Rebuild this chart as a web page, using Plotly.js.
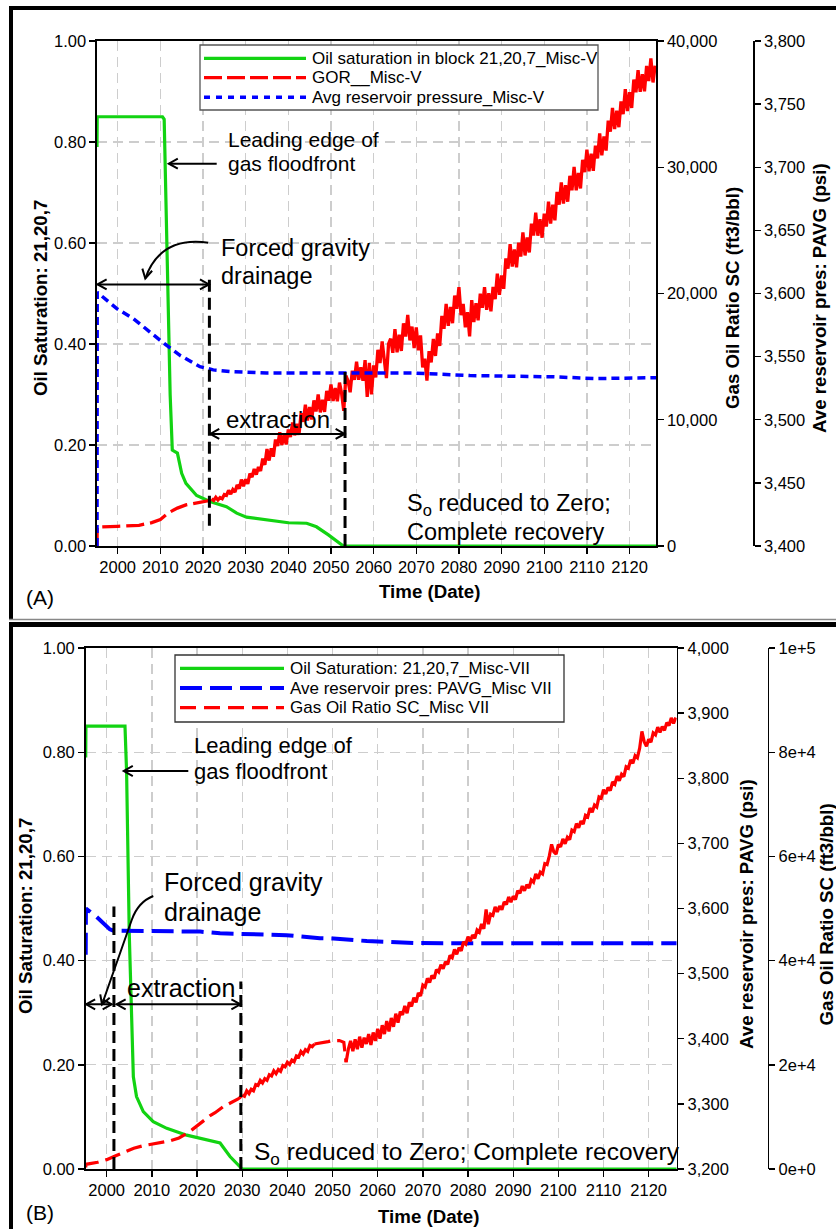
<!DOCTYPE html>
<html>
<head>
<meta charset="utf-8">
<script src="https://cdn.plot.ly/plotly-3.0.1.min.js"></script>
<style>
  html, body { margin: 0; padding: 0; background: #fff; }
  #chart { width: 836px; height: 1229px; }
</style>
</head>
<body>
<div id="chart"></div>
<script>
// ---------------- Panel (A): Misc-V ----------------
const legendA = ['Oil saturation in block 21,20,7_Misc-V', 'GOR__Misc-V', 'Avg reservoir pressure_Misc-V'];

const oilSatA_years = [1995.15, 1995.2, 2010.0, 2010.5, 2010.9, 2011.5, 2011.9, 2012.3, 2012.8, 2014.0, 2015.0, 2016.0, 2018.5, 2021.6, 2025.5, 2027.9, 2030.2, 2034.9, 2040.0, 2044.3, 2046.6, 2049.4, 2052.9, 2126.2];
const oilSatA       = [0.79, 0.85, 0.85, 0.85, 0.845, 0.60, 0.42, 0.30, 0.19, 0.184, 0.144, 0.124, 0.10, 0.088, 0.078, 0.065, 0.057, 0.052, 0.046, 0.045, 0.038, 0.022, 0.0, 0.0];

const pavgA_years = [1995.15, 1995.2, 1999.8, 2003.7, 2005.2, 2009.9, 2014.6, 2019.3, 2022.4, 2027.1, 2034.9, 2050.5, 2069.3, 2082.6, 2102.1, 2112.3, 2117.7, 2126.2];
const pavgA       = [3400, 3601, 3588, 3580, 3576, 3563, 3551, 3542, 3539.5, 3538, 3537, 3537, 3537, 3535, 3534, 3532.6, 3533, 3533.3];

const gorA_years = [
  1995.15, 1995.2, 2000, 2005, 2008, 2010, 2012, 2014, 2016, 2018, 2020, 2021.5,
  2022, 2022.5, 2023, 2023.5, 2024, 2024.5, 2025, 2025.5, 2026, 2026.5, 2027, 2027.5,
  2028, 2028.5, 2029, 2029.5, 2030, 2030.5, 2031, 2031.5, 2032, 2032.5, 2033, 2033.5,
  2034, 2034.5, 2035, 2035.5, 2036, 2036.5, 2037, 2037.5, 2038, 2038.5, 2039, 2039.5,
  2040, 2040.5, 2041, 2041.5, 2042, 2042.5, 2043, 2043.5, 2044, 2044.5, 2045, 2045.5,
  2046, 2046.5, 2047, 2047.5, 2048, 2048.5, 2049, 2049.5, 2050, 2050.5, 2051, 2051.5,
  2052, 2052.5, 2053, 2053.5, 2054, 2054.5, 2055, 2055.5, 2056, 2056.5, 2057, 2057.5,
  2058, 2058.5, 2059, 2059.5, 2060, 2060.5, 2061, 2061.5, 2062, 2062.5, 2063, 2063.5,
  2064, 2064.5, 2065, 2065.5, 2066, 2066.5, 2067, 2067.5, 2068, 2068.5, 2069, 2069.5,
  2070, 2070.5, 2071, 2071.5, 2072, 2072.5, 2073, 2073.5, 2074, 2074.5, 2075, 2075.5,
  2076, 2076.5, 2077, 2077.5, 2078, 2078.5, 2079, 2079.5, 2080, 2080.5, 2081, 2081.5,
  2082, 2082.5, 2083, 2083.5, 2084, 2084.5, 2085, 2085.5, 2086, 2086.5, 2087, 2087.5,
  2088, 2088.5, 2089, 2089.5, 2090, 2090.5, 2091, 2091.5, 2092, 2092.5, 2093, 2093.5,
  2094, 2094.5, 2095, 2095.5, 2096, 2096.5, 2097, 2097.5, 2098, 2098.5, 2099, 2099.5,
  2100, 2100.5, 2101, 2101.5, 2102, 2102.5, 2103, 2103.5, 2104, 2104.5, 2105, 2105.5,
  2106, 2106.5, 2107, 2107.5, 2108, 2108.5, 2109, 2109.5, 2110, 2110.5, 2111, 2111.5,
  2112, 2112.5, 2113, 2113.5, 2114, 2114.5, 2115, 2115.5, 2116, 2116.5, 2117, 2117.5,
  2118, 2118.5, 2119, 2119.5, 2120, 2120.5, 2121, 2121.5, 2122, 2122.5, 2123, 2123.5,
  2124, 2124.5, 2125, 2125.5, 2126
];
const gorA = [
  0, 1500, 1560, 1640, 1850, 2100, 2650, 3000, 3250, 3400, 3500, 3600,
  3730, 3605, 3855, 3640, 3830, 3740, 4080, 4015, 4400, 4110, 4475, 4265,
  4840, 4550, 5260, 4730, 5280, 4925, 5730, 5455, 6100, 5660, 6260, 5940,
  6920, 6425, 7680, 6765, 7740, 7075, 8440, 7915, 9000, 8005, 8830, 8045,
  9220, 8625, 9780, 8765, 9680, 8800, 10530, 9830, 11200, 9935, 11010, 10015,
  11540, 10650, 12010, 10580, 11580, 10625, 12280, 11505, 12800, 11485, 12510, 11465,
  12940, 12075, 10700, 13495, 13080, 12175, 13880, 13155, 14600, 13160, 14160, 13090,
  14720, 11800, 14500, 12000, 14300, 13350, 15540, 14490, 16200, 14455, 13300, 16005,
  16420, 15300, 17180, 15340, 16740, 15450, 17640, 16590, 18300, 16280, 17380, 15670,
  17320, 15500, 16680, 14140, 14840, 13100, 15440, 14540, 16400, 15055, 16830, 15845,
  18220, 17200, 19180, 17440, 18940, 17650, 19840, 18790, 20500, 18280, 19180, 17320,
  18520, 16600, 19480, 17740, 19240, 17875, 19990, 18865, 20500, 18705, 20030, 18595,
  20520, 19550, 21580, 19890, 21440, 20375, 22790, 21965, 23900, 22130, 23480, 22070,
  24020, 22925, 24830, 23015, 24440, 23250, 25540, 24590, 26400, 24580, 25880, 24420,
  26320, 25300, 27280, 25540, 27040, 25800, 28040, 27040, 28800, 27130, 28580, 27270,
  29320, 28175, 30030, 28165, 29540, 28325, 30590, 29615, 31400, 29680, 31080, 29720,
  31720, 30700, 32680, 30940, 32440, 31325, 33690, 32815, 34700, 33030, 34480, 33170,
  35220, 34200, 36180, 34440, 35940, 34700, 36940, 35940, 37700, 35980, 37380, 36020,
  38020, 36825, 38630, 36715, 38040
];

// ---------------- Panel (B): Misc-VII ----------------
const legendB = ['Oil Saturation: 21,20,7_Misc-VII', 'Ave reservoir pres: PAVG_Misc VII', 'Gas Oil Ratio SC_Misc VII'];

const oilSatB_years = [1995.35, 1995.4, 2004.05, 2004.4, 2005.0, 2005.5, 2005.9, 2006.6, 2008.1, 2010.3, 2013.3, 2017.7, 2022.1, 2025.1, 2027.3, 2030.0, 2126.2];
const oilSatB       = [0.79, 0.85, 0.85, 0.763, 0.449, 0.318, 0.177, 0.139, 0.110, 0.091, 0.078, 0.065, 0.056, 0.050, 0.024, 0.0, 0.0];

const pavgB_years = [1995.35, 1995.4, 1997.8, 2000.7, 2001.5, 2005.9, 2020.7, 2025.1, 2035.4, 2039.8, 2047.2, 2050.2, 2057.6, 2067.9, 2078.2, 2126.2];
const pavgB       = [3529, 3600, 3587, 3568, 3566, 3565.6, 3564.5, 3562, 3559.4, 3559, 3554.5, 3554, 3550, 3547, 3546.7, 3546.7];

const gorB_years = [
  1995.35, 1995.4, 1998, 2000, 2002, 2004, 2006, 2008, 2010, 2012, 2014, 2016, 2017,
  2018, 2019, 2020, 2021, 2022, 2023, 2024, 2025, 2026, 2027, 2028, 2029, 2029.5,
  2030, 2030.5, 2031, 2031.5, 2032, 2032.5, 2033, 2033.5, 2034, 2034.5, 2035, 2035.5,
  2036, 2036.5, 2037, 2037.5, 2038, 2038.5, 2039, 2039.5, 2040, 2040.5, 2041, 2041.5,
  2042, 2042.5, 2043, 2043.5, 2044, 2044.5, 2045, 2045.5,
  2046, 2047, 2048, 2049, 2050, 2051, 2051.5, 2052, 2052.5, 2053, 2053.5,
  2054, 2054.5, 2055, 2055.5, 2056, 2056.5, 2057, 2057.5, 2058, 2058.5, 2059, 2059.5,
  2060, 2060.5, 2061, 2061.5, 2062, 2062.5, 2063, 2063.5, 2064, 2064.5, 2065, 2065.5,
  2066, 2066.5, 2067, 2067.5, 2068, 2068.5, 2069, 2069.5,
  2070, 2070.5, 2071, 2071.5, 2072, 2072.5, 2073, 2073.5, 2074, 2074.5, 2075, 2075.5,
  2076, 2076.5, 2077, 2077.5, 2078, 2078.5, 2079, 2079.5, 2080, 2080.5, 2081, 2081.5,
  2082, 2082.5, 2083, 2083.5, 2084, 2084.5, 2085, 2085.5, 2086, 2086.5, 2087, 2087.5,
  2088, 2088.5, 2089, 2089.5, 2090, 2090.5, 2091, 2091.5, 2092, 2092.5, 2093, 2093.5,
  2094, 2094.5, 2095, 2095.5, 2096, 2096.5, 2097, 2097.5, 2098, 2098.5, 2099, 2099.5,
  2100, 2100.5, 2101, 2101.5, 2102, 2102.5, 2103, 2103.5, 2104, 2104.5, 2105, 2105.5,
  2106, 2106.5, 2107, 2107.5, 2108, 2108.5, 2109, 2109.5, 2110, 2110.5, 2111, 2111.5,
  2112, 2112.5, 2113, 2113.5, 2114, 2114.5, 2115, 2115.5, 2116, 2116.5, 2117, 2117.5,
  2118, 2118.5, 2119, 2119.5, 2120, 2120.5, 2121, 2121.5, 2122, 2122.5, 2123, 2123.5,
  2124, 2124.5, 2125, 2125.5, 2126
];
const gorB = [
  300, 900, 1300, 1800, 2550, 3300, 4000, 4450, 4800, 5100, 5400, 5950, 6400,
  6950, 7600, 8300, 9000, 9700, 10300, 10800, 11500, 12100, 12500, 12900, 13400, 13700,
  14200, 13975, 15000, 14475, 15300, 15025, 16200, 16025, 17000, 16525, 17350, 17025,
  18100, 17850, 18850, 18300, 19100, 18750, 19850, 19600, 20500, 20050, 20900, 20600,
  21700, 21500, 22550, 22050, 22900, 22575, 23700, 23475,
  24000, 24100, 24300, 24450, 24650, 24750, 24650, 24500, 24300, 20500, 23000,
  24600, 22600, 24900, 23000, 25400, 23300, 25200, 24000, 25900, 23800, 26200, 24600,
  26900, 25000, 27600, 25900, 28400, 26400, 29000, 27300, 29800, 28100, 30200, 29600,
  31300, 29900, 32000, 31200, 32900, 32000, 33800, 33200,
  35300, 34950, 36600, 35800, 37150, 36550, 38250, 37800, 39200, 38450, 39770, 39255,
  40980, 40550, 42120, 41210, 42460, 41875, 43610, 43185, 44600, 43720, 44920, 44280,
  45880, 45450, 47020, 46110, 49800, 46975, 48910, 48685, 50300, 49345, 50470, 49755,
  51280, 50750, 52220, 51210, 52360, 51725, 53410, 52935, 54300, 53395, 54570, 53905,
  55480, 55050, 56620, 55710, 56960, 56625, 58610, 58435, 60100, 62300, 60870, 60455,
  62280, 61825, 63370, 62435, 63660, 63200, 65060, 64760, 66300, 65495, 66770, 66205,
  67880, 67575, 69270, 68485, 69860, 69475, 71410, 71185, 72800, 71970, 73220, 72630,
  74280, 73850, 75420, 74510, 75760, 75325, 77210, 76935, 78500, 77870, 79320, 78930,
  80780, 84000, 82020, 81160, 82460, 81925, 83710, 83335, 84800, 83820, 84920, 84180,
  85680, 85125, 86570, 85535, 86660
];

// Axis tick values
const yearTicks  = [2000, 2010, 2020, 2030, 2040, 2050, 2060, 2070, 2080, 2090, 2100, 2110, 2120];
const satTicks   = [0, 0.2, 0.4, 0.6, 0.8, 1.0];
const gorTicksA  = [0, 10000, 20000, 30000, 40000];
const pavgTicksA = [3400, 3450, 3500, 3550, 3600, 3650, 3700, 3750, 3800];
const pavgTicksB = [3200, 3300, 3400, 3500, 3600, 3700, 3800, 3900, 4000];
const gorTicksB  = [0, 20000, 40000, 60000, 80000, 100000];

// ---------------- Drawing ----------------
const W = 836, H = 1229;
const fx = p => p / W;          // pixel -> paper x
const fy = p => 1 - p / H;      // pixel -> paper y
const FONT = 'Liberation Sans, Arial, sans-serif';
const GREEN = '#12d312', RED = '#ff0000', BLUE = '#0000ff';

// slice of a series between two years (inclusive); dense noisy stretches are
// stroked solid, the smooth stretches keep the dashed pattern
function span(xs, ys, from, to) {
  const x = [], y = [];
  xs.forEach((t, i) => { if (t >= from && t <= to) { x.push(t); y.push(ys[i]); } });
  return { x: x, y: y };
}
function part(xs, ys, from, to, axes, line) {
  const s = span(xs, ys, from, to);
  return { x: s.x, y: s.y, xaxis: axes[0], yaxis: axes[1], mode: 'lines', line: line, hoverinfo: 'skip' };
}

const gorLineA = { color: RED, width: 3.3 };
const gorLineB = { color: RED, width: 3.2 };

const traces = [
  { x: oilSatA_years, y: oilSatA, xaxis: 'x', yaxis: 'y', mode: 'lines', name: legendA[0],
    line: { color: GREEN, width: 3.2 } },
  part(gorA_years, gorA, 1995, 2022, ['x', 'y2'], Object.assign({ dash: '18px,6px' }, gorLineA)),
  part(gorA_years, gorA, 2022, 2127, ['x', 'y2'], gorLineA),
  { x: pavgA_years, y: pavgA, xaxis: 'x', yaxis: 'y3', mode: 'lines', name: legendA[2],
    line: { color: BLUE, width: 3.5, dash: '8px,5px' } },

  { x: oilSatB_years, y: oilSatB, xaxis: 'x2', yaxis: 'y4', mode: 'lines', name: legendB[0],
    line: { color: GREEN, width: 3.2 } },
  { x: pavgB_years, y: pavgB, xaxis: 'x2', yaxis: 'y5', mode: 'lines', name: legendB[1],
    line: { color: BLUE, width: 4, dash: '22px,8px' } },
  part(gorB_years, gorB, 1995, 2030, ['x2', 'y6'], Object.assign({ dash: '16px,7px' }, gorLineB)),
  part(gorB_years, gorB, 2030, 2046, ['x2', 'y6'], gorLineB),
  part(gorB_years, gorB, 2046, 2053, ['x2', 'y6'], Object.assign({ dash: '16px,7px' }, gorLineB)),
  part(gorB_years, gorB, 2053, 2127, ['x2', 'y6'], gorLineB)
];
traces[1].name = traces[2].name = legendA[1];
traces.slice(6).forEach(t => { t.name = legendB[2]; });

const tickFont = { family: FONT, size: 16.5, color: '#000' };
const base = {
  showline: true, linecolor: '#000', linewidth: 1.6,
  ticks: 'outside', ticklen: 6, tickwidth: 1.4, tickcolor: '#000',
  tickfont: tickFont, zeroline: false, automargin: false, fixedrange: true
};
const grid = { showgrid: true, gridcolor: '#cdcdcd', gridwidth: 1.3, griddash: '10px,6px' };

const layout = {
  width: W, height: H,
  margin: { l: 0, r: 0, t: 0, b: 0 },
  paper_bgcolor: '#fff', plot_bgcolor: '#fff',
  showlegend: false,
  font: { family: FONT, color: '#000' },

  // panel A
  xaxis: Object.assign({}, base, grid, {
    domain: [fx(97), fx(656)], range: [1995.15, 2126.2], anchor: 'y',
    tickvals: yearTicks, mirror: true
  }),
  yaxis: Object.assign({}, base, grid, {
    domain: [fy(546), fy(41)], range: [0, 1], anchor: 'x',
    tickvals: satTicks, tickformat: '.2f'
  }),
  yaxis2: Object.assign({}, base, {
    overlaying: 'y', side: 'right', anchor: 'x', range: [0, 40000],
    tickvals: gorTicksA, tickformat: ',', showgrid: false
  }),
  yaxis3: Object.assign({}, base, {
    overlaying: 'y', side: 'right', anchor: 'free', position: fx(753), range: [3400, 3800],
    tickvals: pavgTicksA, tickformat: ',', showgrid: false
  }),

  // panel B
  xaxis2: Object.assign({}, base, grid, {
    domain: [fx(85.7), fx(676.7)], range: [1995.35, 2126.2], anchor: 'y4',
    tickvals: yearTicks, mirror: true
  }),
  yaxis4: Object.assign({}, base, grid, {
    domain: [fy(1169), fy(648)], range: [0, 1], anchor: 'x2',
    tickvals: satTicks, tickformat: '.2f'
  }),
  yaxis5: Object.assign({}, base, {
    overlaying: 'y4', side: 'right', anchor: 'x2', range: [3200, 4000],
    tickvals: pavgTicksB, tickformat: ',', showgrid: false
  }),
  yaxis6: Object.assign({}, base, {
    overlaying: 'y4', side: 'right', anchor: 'free', position: fx(767.7), range: [0, 100000],
    tickvals: gorTicksB, tickformat: '.0e', showgrid: false
  })
};

// text helper (page pixel positions)
const T = (text, x, y, size, extra) => Object.assign({
  xref: 'paper', yref: 'paper', x: fx(x), y: fy(y), text: text, showarrow: false,
  xanchor: 'left', yanchor: 'middle', font: { family: FONT, size: size, color: '#000' }
}, extra || {});
const C = { xanchor: 'center' };
const V = { xanchor: 'center', textangle: -90 };

const annotations = [
  // panel A
  T('Leading edge of', 226, 139.3, 21),
  T('gas floodfront', 226, 164, 21),
  T('Forced gravity', 219, 248, 23.5),
  T('drainage', 219, 276, 23.5),
  T('extraction', 278, 419, 24, C),
  T('S<sub>o</sub> reduced to Zero;', 405, 504, 23.5),
  T('Complete recovery', 405, 532, 23.5),
  T('(A)', 24, 597, 21),
  T('<b>Time (Date)</b>', 430, 591.7, 18.7, C),
  T('<b>Oil Saturation: 21,20,7</b>', 40, 298, 18.7, V),
  T('<b>Gas Oil Ratio SC (ft3/bbl)</b>', 732, 298, 18.7, V),
  T('<b>Ave reservoir pres: PAVG (psi)</b>', 819, 298, 18.7, V),
  T(legendA[0], 310, 58.3, 17),
  T(legendA[1], 310, 77.7, 17),
  T(legendA[2], 310, 97.3, 17),

  // panel B
  T('Leading edge of', 191.7, 745.8, 22),
  T('gas floodfront', 191.7, 771.7, 22),
  T('Forced gravity', 161.7, 882.2, 25),
  T('drainage', 161.7, 911.7, 25),
  T('extraction', 181, 988, 25, C),
  T('S<sub>o</sub> reduced to Zero; Complete recovery', 251.7, 1153.5, 24.5),
  T('(B)', 24, 1212, 21),
  T('<b>Time (Date)</b>', 428, 1216.5, 18.7, C),
  T('<b>Oil Saturation: 21,20,7</b>', 25, 916, 18.7, V),
  T('<b>Ave reservoir pres: PAVG (psi)</b>', 746, 914, 18.7, V),
  T('<b>Gas Oil Ratio SC (ft3/bbl)</b>', 825.5, 915, 18.7, V),
  T(legendB[0], 288, 668.3, 17),
  T(legendB[1], 288, 688, 17),
  T(legendB[2], 288, 707.7, 17)
];

// ---------- shapes ----------
const P = (x, y) => fx(x).toFixed(5) + ',' + fy(y).toFixed(5);
const INK = { color: '#000', width: 2 };
const L = (x0, y0, x1, y1, color, width, dash) => ({
  type: 'line', xref: 'paper', yref: 'paper', x0: fx(x0), y0: fy(y0), x1: fx(x1), y1: fy(y1),
  line: { color: color, width: width, dash: dash || 'solid' }
});
const VL = (xr, yr, x, y0, y1) => ({
  type: 'line', xref: xr, yref: yr, x0: x, x1: x, y0: y0, y1: y1,
  line: { color: '#000', width: 3, dash: '12px,6px' }
});
// open chevron head at tip (hx, hy) for travel direction (ux, uy), page px
const chevron = (hx, hy, ux, uy) => {
  const n = Math.hypot(ux, uy); ux /= n; uy /= n;
  const d = 9, w = 5, bx = hx - ux * d, by = hy - uy * d, nx = -uy, ny = ux;
  return { type: 'path', xref: 'paper', yref: 'paper', line: INK,
    path: 'M' + P(bx + nx * w, by + ny * w) + ' L' + P(hx, hy) + ' L' + P(bx - nx * w, by - ny * w) };
};
// straight pointer from tail to head
const pointer = (tx, ty, hx, hy) => [
  Object.assign(L(tx, ty, hx, hy, '#000', 2)), chevron(hx, hy, hx - tx, hy - ty)
];
// double-headed span in data coordinates; heads sized in pixels
const spanArrow = (xr, yr, x0, x1, y) => [
  { type: 'line', xref: xr, yref: yr, x0: x0, x1: x1, y0: y, y1: y, line: INK },
  { type: 'path', xref: xr, yref: yr, xsizemode: 'pixel', ysizemode: 'pixel', xanchor: x0, yanchor: y,
    path: 'M9,5 L0,0 L9,-5', line: INK },
  { type: 'path', xref: xr, yref: yr, xsizemode: 'pixel', ysizemode: 'pixel', xanchor: x1, yanchor: y,
    path: 'M-9,5 L0,0 L-9,-5', line: INK }
];

const shapes = [
  // panel frames
  L(9, 8, 836, 8, '#000', 4),
  L(11, 6, 11, 619, '#000', 4),
  L(9, 619.5, 836, 619.5, '#888', 1.5),
  L(9, 624.5, 836, 624.5, '#000', 5),
  L(11, 622, 11, 1229, '#000', 4),

  // phase boundaries
  VL('x', 'y', 2021.5, 0.04, 0.535),
  VL('x', 'y', 2053.3, 0.0, 0.345),
  VL('x2', 'y4', 2001.6, 0.0, 0.504),
  VL('x2', 'y4', 2029.7, 0.0, 0.36),

  // pointers, panel A
  ...pointer(216.7, 163.7, 168.8, 163.7),
  { type: 'path', xref: 'paper', yref: 'paper', line: INK,
    path: 'M' + P(208.3, 242.7) + ' Q' + P(160, 236) + ' ' + P(145.3, 278.5) },
  chevron(145.3, 278.5, -0.22, 1),
  ...spanArrow('x', 'y', 1995.3, 2021.4, 0.518),
  ...spanArrow('x', 'y', 2021.7, 2053.2, 0.222),

  // pointers, panel B
  ...pointer(188.3, 771, 123.8, 771),
  { type: 'path', xref: 'paper', yref: 'paper', line: INK,
    path: 'M' + P(153.3, 896) + ' Q' + P(138, 902) + ' ' + P(131.7, 920) + ' L' + P(102, 1004.5) },
  chevron(102, 1004.5, -30, 85.5),
  ...spanArrow('x2', 'y4', 1995.45, 2001.1, 0.316),
  ...spanArrow('x2', 'y4', 2002.2, 2029.6, 0.316),

  // legend A
  { type: 'rect', xref: 'paper', yref: 'paper', x0: fx(200), x1: fx(598), y0: fy(110), y1: fy(45),
    fillcolor: '#fff', line: { color: '#555', width: 1.3 } },
  L(204, 58.3, 306, 58.3, GREEN, 3.2),
  L(204, 77.7, 306, 77.7, RED, 3.2, '18px,5px'),
  L(204, 97.3, 306, 97.3, BLUE, 3.5, '6px,6px'),

  // legend B
  { type: 'rect', xref: 'paper', yref: 'paper', x0: fx(175), x1: fx(564), y0: fy(722), y1: fy(655),
    fillcolor: '#fff', line: { color: '#333', width: 1.3 } },
  L(180, 668.3, 284, 668.3, GREEN, 3.2),
  L(180, 688, 284, 688, BLUE, 4, '22px,8px'),
  L(180, 707.7, 284, 707.7, RED, 3.2, '16px,8px')
];

layout.annotations = annotations;
layout.shapes = shapes;

Plotly.newPlot('chart', traces, layout, { staticPlot: true, displayModeBar: false });
</script>
</body>
</html>
